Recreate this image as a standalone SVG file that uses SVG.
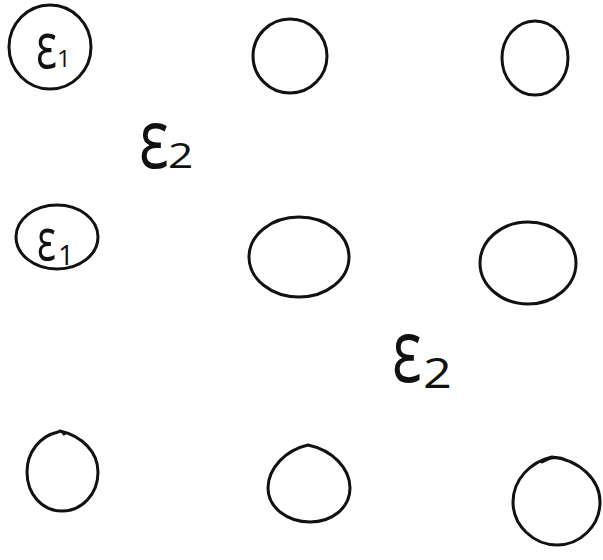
<svg xmlns="http://www.w3.org/2000/svg" width="603" height="560" viewBox="0 0 603 560">
<style>
.c{fill:none;stroke:#111;stroke-width:3;stroke-linecap:round;stroke-linejoin:round}
.e{font-family:"Open Sans","DejaVu Sans",sans-serif;font-weight:400;fill:#111}
</style>
<rect width="603" height="560" fill="#fff"/>
<g id="n1"><ellipse class="c" cx="50" cy="47" rx="41" ry="42"/>
<text class="e" transform="translate(36 68) scale(1.1 1.6)" font-size="40">ε</text><text class="e" x="57" y="67" font-size="24">1</text></g>
<g id="n2"><ellipse class="c" cx="290" cy="56" rx="37" ry="37"/></g>
<g id="n3"><ellipse class="c" cx="535" cy="58" rx="33" ry="37"/></g>
<g id="n4"><ellipse class="c" cx="57" cy="237" rx="41" ry="32"/>
<text class="e" transform="translate(37 260) scale(1.1 1.65)" font-size="36">ε</text><text class="e" x="58" y="265" font-size="28">1</text></g>
<g id="n5"><ellipse class="c" cx="299" cy="257" rx="50" ry="40"/></g>
<g id="n6"><ellipse class="c" cx="528" cy="263" rx="48" ry="41"/></g>
<g id="n7"><path class="c" d="M 60 431 C 82 436, 98 452, 98 472 C 98 494, 82 511, 62 511 C 42 511, 27 494, 27 472 C 27 452, 40 436, 58 432 Q 62 430 64 434"/></g>
<g id="n8"><path class="c" d="M 308 445 C 332 450, 350 468, 350 488 C 350 508, 332 522, 310 522 C 288 522, 268 508, 268 488 C 268 468, 286 450, 308 445 Z"/></g>
<g id="n9"><path class="c" d="M 552 457 C 580 460, 600 480, 600 502 C 600 526, 580 545, 557 545 C 534 545, 513 526, 513 502 C 513 480, 530 462, 552 457 Z M 542 462 Q 555 454 566 460"/></g>
<g id="labels">
<text class="e" transform="translate(139 168) scale(1.2 1.6)" font-size="52">ε</text><text class="e" transform="translate(168 168) scale(1.3 1)" font-size="34">2</text>
<text class="e" transform="translate(392 382) scale(1.2 1.7)" font-size="52">ε</text><text class="e" transform="translate(423 388) scale(1.2 1)" font-size="42">2</text>
</g>
<g id="connectors"></g>
</svg>
